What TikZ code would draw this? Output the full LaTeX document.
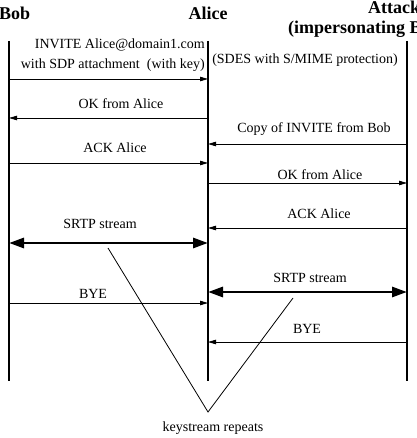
\documentclass[tikz,border=0pt]{standalone}
\usepackage{fontspec}
\setmainfont{Liberation Serif}
\usepackage{tikz}
\usetikzlibrary{arrows.meta}

\begin{document}
\begin{tikzpicture}[x=1pt, y=-1pt,
    lifeline/.style={line width=2pt},
    msg/.style={line width=0.8pt, -{Triangle[length=8pt, width=4.5pt]}},
    stream/.style={line width=2.8pt, {Triangle[length=15pt, width=10pt]}-{Triangle[length=15pt, width=10pt]}},
    lbl/.style={inner sep=0pt, anchor=base, font=\fontsize{14}{20}\selectfont},
    head/.style={inner sep=0pt, anchor=base west, font=\fontsize{18}{20}\selectfont\bfseries}]
  \useasboundingbox (0,0) rectangle (416,438);

  % lifelines, with a point on each for every message
  \foreach \who/\x in {bob/9, alice/208, att/407} {
    \draw[lifeline] (\x,41) -- (\x,381);
    \foreach \y in {79,118,144,163,183,228,243,292,303,342}
      \coordinate (\who\y) at (\x,\y);
  }

  \node[head] (bob) at (-1,20) {Bob};
  \node[head, anchor=base] (alice) at (208,20) {Alice};
  \node[head] (att) at (368,13.5) {Attacker};
  \node[head] (attnote) at (288,33.5) {(impersonating Bob)};

  % messages
  \foreach \a/\b/\y in {bob/alice/79, alice/bob/118, att/alice/144, bob/alice/163,
                        alice/att/183, att/alice/228, bob/alice/303, att/alice/342}
    \draw[msg] (\a\y) -- (\b\y);
  \draw[stream] (bob243) -- (alice243);
  \draw[stream] (alice292) -- (att292);

  \node[lbl, anchor=base east, align=right] (invite) at (205,68.5)
    {INVITE Alice@domain1.com\\with SDP attachment\ \ (with key)};
  \node[lbl] (sdes) at (305,64) {(SDES with S/MIME protection)};
  \foreach \x/\y/\t [count=\i] in {121/108.6/OK from Alice, 314/132.6/Copy of INVITE from Bob,
      115/152.6/ACK Alice, 320/179/OK from Alice, 319/218.3/ACK Alice,
      100/228.3/SRTP stream, 310/282.7/SRTP stream, 93/298.3/BYE, 307/333.3/BYE}
    \node[lbl] (lbl\i) at (\x,\y) {\t};

  % keystream reuse
  \coordinate (lstream) at (108,248);
  \coordinate (rstream) at (293,298);
  \coordinate (vtip) at (208,412);
  \draw[line width=0.8pt] (lstream) -- (vtip) -- (rstream);
  \node[lbl] (keys) at (213,431) {keystream repeats};
\end{tikzpicture}
\end{document}
